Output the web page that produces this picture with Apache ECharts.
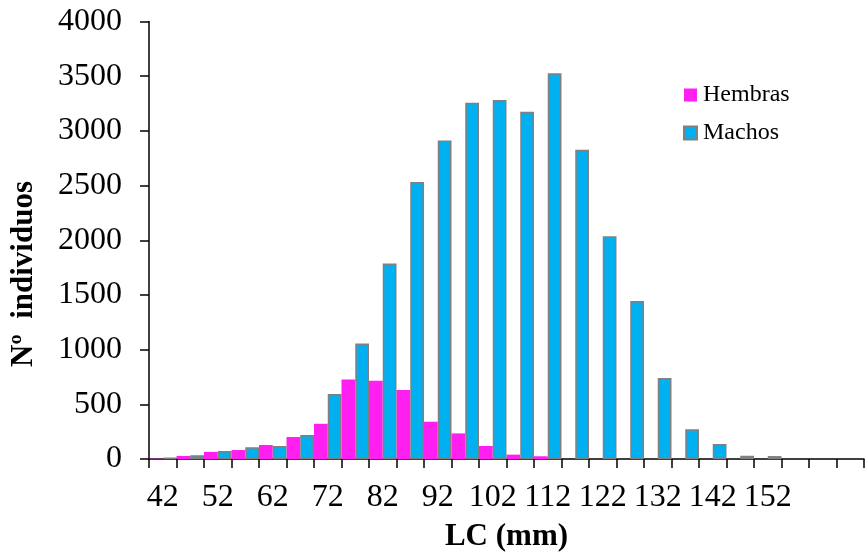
<!DOCTYPE html>
<html>
<head>
<meta charset="utf-8">
<script src="https://cdn.jsdelivr.net/npm/echarts@6/dist/echarts.min.js"></script>
<style>
html,body{margin:0;padding:0;background:#fff;}
#chart{width:865px;height:558px;}
</style>
</head>
<body>
<div id="chart"></div>
<script>
const categories = ['42','47','52','57','62','67','72','77','82','87','92','97','102','107','112','117','122','127','132','137','142','147','152','157','',''];
const hembras = [3,28,65,82,128,201,322,728,715,630,341,234,119,40,25,0,0,0,0,0,0,0,0,0,0,0];
const machos = [12,35,73,107,119,220,594,1056,1787,2533,2913,3257,3282,3174,3528,2828,2036,1445,740,271,137,30,27,null,null,null];
const yTicks = {min:0, max:4000, interval:500};

const FONT = 'Liberation Serif';
const chart = echarts.init(document.getElementById('chart'), null, {renderer:'canvas'});
chart.setOption({
  animation:false,
  backgroundColor:'#fff',
  grid:{left:149, right:1, top:21.5, bottom:99, containLabel:false, outerBoundsMode:'none'},
  legend:{
    orient:'vertical', left:683, top:83, padding:0,
    itemWidth:13, itemHeight:13, itemGap:14,
    icon:'rect',
    textStyle:{fontFamily:FONT, fontSize:24, color:'#000', padding:[0,0,0,1]},
    data:['Hembras','Machos']
  },
  graphic:[{
    type:'text', x:24, y:274, rotation:Math.PI/2,
    style:{text:'Nº  individuos', font:'bold 31px "Liberation Serif"', fill:'#000', align:'center', verticalAlign:'middle'}
  }],
  xAxis:{
    type:'category', data:categories,
    name:'LC (mm)', nameLocation:'middle', nameGap:62,
    nameTextStyle:{fontFamily:FONT, fontWeight:'bold', fontSize:31, color:'#000'},
    axisLine:{lineStyle:{color:'#000', width:1.5}},
    axisTick:{show:true, interval:0, length:9, lineStyle:{color:'#000', width:1.5}},
    axisLabel:{interval:1, margin:23, fontFamily:FONT, fontSize:32, color:'#000'}
  },
  yAxis:{
    type:'value', min:yTicks.min, max:yTicks.max, interval:yTicks.interval,
    axisLine:{show:true, lineStyle:{color:'#000', width:1.5}},
    axisTick:{show:true, length:9, lineStyle:{color:'#000', width:1.5}},
    splitLine:{show:false},
    axisLabel:{margin:27, fontFamily:FONT, fontSize:32, color:'#000', formatter:function(v){return String(v);}}
  },
  series:[
    {name:'Hembras', type:'bar', data:hembras, barGap:'0%', barCategoryGap:'0%',
     itemStyle:{color:'#ff1ff0'}},
    {name:'Machos', type:'bar', data:machos, barGap:'0%', barCategoryGap:'0%',
     itemStyle:{color:'#00b0f0', borderColor:'#808080', borderWidth:1.5}}
  ]
});
</script>
</body>
</html>
